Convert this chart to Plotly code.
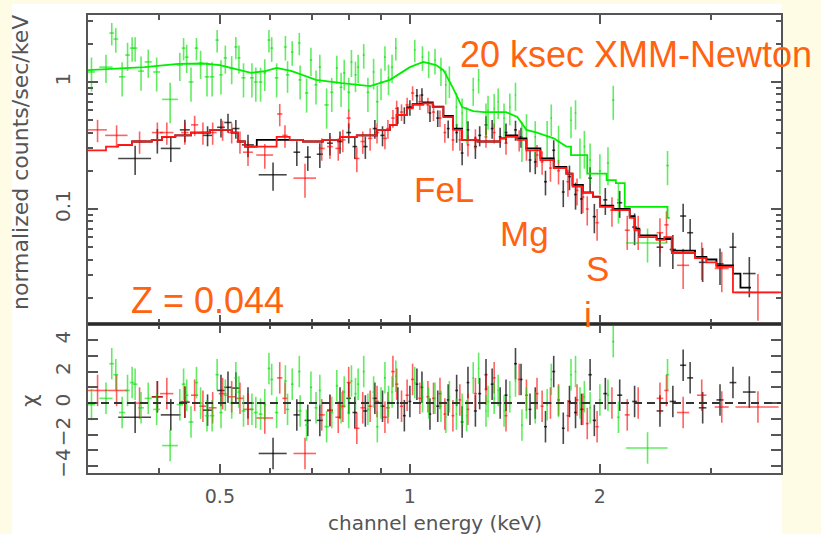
import plotly.graph_objects as go
from plotly.subplots import make_subplots

# ---------------- data ----------------
# black data set: energy (keV), half bin width, counts, relative error, chi residual
black_E = [0.367,0.398,0.418,0.44,0.478,0.502,0.515,0.53,0.554,0.607,0.662,0.689,0.72,0.747,0.775,0.80,0.818,0.85,0.88,0.905,
           0.957,0.98,1.0,1.026,1.045,1.076,1.107,1.15,1.186,1.21,1.236,1.27,1.29,1.32,1.35,1.39,1.42,1.47,1.50,1.55,
           1.58,1.64,1.69,1.75,1.79,1.83,1.87,1.93,1.96,2.04,2.15,2.27,2.49,2.61,2.71,2.78,2.91,3.10,3.25,3.45]
black_dE = [0.022,0.008,0.015,0.008,0.008,0.007,0.007,0.007,0.012,0.031,0.008,0.008,0.008,0.008,0.008,0.007,0.007,0.007,0.007,0.007,
            0.005,0.005,0.005,0.005,0.005,0.005,0.006,0.006,0.006,0.006,0.006,0.007,0.007,0.007,0.007,0.007,0.008,0.008,0.008,0.008,
            0.008,0.009,0.009,0.009,0.010,0.010,0.010,0.012,0.012,0.015,0.020,0.020,0.030,0.030,0.030,0.030,0.040,0.040,0.040,0.080]
black_y = [0.25,0.35,0.30,0.42,0.38,0.44,0.48,0.43,0.32,0.186,0.28,0.256,0.27,0.33,0.34,0.40,0.31,0.31,0.43,0.38,
           0.55,0.55,0.63,0.78,0.79,0.57,0.52,0.43,0.40,0.276,0.42,0.31,0.38,0.46,0.43,0.37,0.40,0.42,0.37,0.243,
           0.235,0.164,0.29,0.136,0.18,0.13,0.12,0.175,0.087,0.118,0.112,0.072,0.050,0.048,0.088,0.065,0.038,0.037,0.050,0.031]
black_rel = [0.26,0.22,0.22,0.20,0.18,0.17,0.17,0.17,0.20,0.25,0.22,0.22,0.22,0.20,0.20,0.18,0.20,0.20,0.17,0.18,
             0.15,0.15,0.14,0.13,0.13,0.15,0.15,0.16,0.17,0.20,0.17,0.20,0.18,0.17,0.17,0.18,0.18,0.18,0.18,0.20,
             0.20,0.22,0.20,0.24,0.22,0.24,0.24,0.22,0.26,0.24,0.24,0.28,0.30,0.30,0.25,0.28,0.30,0.32,0.30,0.35]
black_chi = [-0.9,0.4,-0.75,0.05,-0.45,0.8,1.0,0.95,0.0,-3.2,-0.75,-1.1,-1.1,-0.45,0.0,0.3,-0.6,-0.5,0.3,-0.2,
             0.0,-0.8,0.1,1.2,1.0,-0.7,-0.2,0.2,0.8,-1.2,1.3,-0.5,0.6,1.8,1.2,0.0,0.5,2.5,1.5,-0.4,
             0.0,-1.5,2.0,-1.6,0.1,-0.6,-0.4,1.8,-1.1,0.6,0.5,0.1,-0.5,0.1,2.4,1.6,-0.3,0.2,1.3,0.7]

# red data set
red_E = [0.32,0.343,0.373,0.398,0.412,0.44,0.456,0.47,0.487,0.505,0.522,0.538,0.554,0.589,0.622,0.634,0.682,0.725,0.747,0.77,
         0.783,0.80,0.824,0.842,0.865,0.887,0.913,0.923,0.94,0.953,0.97,0.99,1.01,1.037,1.068,1.09,1.116,1.136,1.17,1.20,
         1.236,1.27,1.32,1.36,1.42,1.49,1.53,1.59,1.62,1.67,1.72,1.78,1.84,1.88,1.91,1.98,2.09,2.21,2.30,2.49,
         2.55,2.71,2.90,3.12,3.56]
red_dE = [0.011,0.014,0.008,0.008,0.010,0.006,0.006,0.006,0.007,0.007,0.007,0.007,0.010,0.018,0.006,0.006,0.028,0.008,0.008,0.008,
          0.008,0.006,0.008,0.007,0.007,0.007,0.007,0.006,0.006,0.006,0.006,0.006,0.006,0.006,0.006,0.006,0.006,0.006,0.006,0.006,
          0.006,0.007,0.007,0.007,0.008,0.008,0.008,0.009,0.009,0.009,0.009,0.010,0.010,0.010,0.010,0.012,0.015,0.020,0.020,0.030,
          0.020,0.060,0.050,0.080,0.280]
red_y = [0.42,0.38,0.34,0.40,0.40,0.40,0.46,0.40,0.40,0.42,0.40,0.34,0.28,0.266,0.56,0.38,0.175,0.30,0.31,0.30,
         0.35,0.52,0.25,0.34,0.36,0.40,0.36,0.43,0.52,0.62,0.58,0.66,0.82,0.70,0.66,0.58,0.52,0.40,0.35,0.35,
         0.32,0.36,0.37,0.40,0.33,0.35,0.30,0.266,0.235,0.21,0.20,0.164,0.14,0.124,0.10,0.078,0.098,0.068,0.068,0.065,
         0.075,0.036,0.041,0.034,0.022]
red_rel = [0.20,0.20,0.20,0.20,0.20,0.20,0.18,0.20,0.20,0.18,0.18,0.20,0.22,0.22,0.20,0.20,0.30,0.20,0.20,0.20,
           0.20,0.17,0.22,0.20,0.20,0.18,0.18,0.17,0.16,0.15,0.15,0.14,0.13,0.14,0.14,0.15,0.15,0.17,0.18,0.18,
           0.19,0.18,0.18,0.18,0.19,0.19,0.20,0.20,0.21,0.22,0.22,0.24,0.24,0.25,0.26,0.28,0.26,0.30,0.30,0.30,
           0.28,0.35,0.33,0.35,0.40]
red_chi = [0.8,0.8,0.0,0.4,0.6,0.1,0.5,-0.2,-0.3,0.6,0.4,0.3,-0.4,-0.95,1.6,0.3,-3.2,-0.75,-0.5,-0.9,
           -0.2,1.3,-1.6,-0.3,-0.2,0.1,-0.9,-0.3,2.0,1.2,-0.2,0.5,1.5,0.3,0.4,0.3,0.6,-0.7,-0.8,0.2,
           -0.4,0.6,0.9,1.6,-0.8,1.5,0.5,0.6,-0.2,0.0,0.2,-0.8,0.2,-0.4,-1.3,-1.5,0.0,-0.75,0.0,0.3,
           0.8,-0.6,0.5,-0.25,-0.25]

# green data set
green_E = [0.313,0.33,0.337,0.342,0.35,0.357,0.363,0.367,0.375,0.385,0.397,0.417,0.432,0.438,0.443,0.45,0.459,0.466,0.477,0.486,
           0.495,0.502,0.51,0.522,0.53,0.536,0.545,0.562,0.57,0.58,0.589,0.598,0.604,0.615,0.635,0.64,0.651,0.668,0.67,0.686,
           0.697,0.71,0.72,0.738,0.752,0.766,0.778,0.787,0.80,0.808,0.82,0.828,0.845,0.858,0.876,0.888,0.90,0.913,0.925,0.937,
           0.95,1.018,1.047,1.071,1.096,1.12,1.14,1.155,1.185,1.21,1.23,1.26,1.285,1.32,1.33,1.36,1.38,1.41,1.44,1.47,
           1.505,1.53,1.58,1.65,1.675,1.72,1.80,1.83,1.86,1.89,1.93,2.00,2.06,2.10,2.14,2.38,2.56]
green_dE = [0.004,0.008,0.003,0.003,0.004,0.003,0.003,0.003,0.004,0.005,0.005,0.012,0.005,0.003,0.003,0.004,0.003,0.003,0.004,0.004,
            0.003,0.003,0.003,0.004,0.003,0.003,0.004,0.004,0.004,0.004,0.003,0.003,0.003,0.004,0.003,0.004,0.003,0.003,0.004,0.004,
            0.003,0.004,0.003,0.006,0.004,0.003,0.004,0.003,0.004,0.003,0.003,0.003,0.003,0.004,0.003,0.004,0.003,0.003,0.003,0.003,
            0.003,0.003,0.003,0.003,0.003,0.003,0.003,0.003,0.003,0.003,0.003,0.003,0.003,0.003,0.003,0.003,0.003,0.003,0.003,0.003,
            0.004,0.004,0.004,0.004,0.004,0.005,0.005,0.005,0.006,0.006,0.006,0.008,0.008,0.008,0.010,0.180,0.012]
green_y = [1.2,1.31,2.43,2.18,1.1,1.63,1.85,1.85,1.22,1.44,1.2,0.73,1.36,1.85,1.57,1.0,1.85,1.41,1.1,1.1,
           2.14,1.14,1.55,1.28,1.89,1.55,1.08,1.08,1.0,1.0,1.18,2.14,1.85,1.08,1.89,1.14,1.72,2.03,1.04,0.82,
           1.49,0.95,1.31,0.66,0.83,1.29,0.91,1.18,0.83,1.44,1.14,1.31,1.63,0.83,1.2,0.70,1.0,1.57,1.08,1.31,
           1.85,1.79,1.57,1.41,1.49,1.24,0.95,1.04,0.635,0.57,0.48,0.865,1.04,0.52,0.60,0.62,0.70,0.52,0.635,0.79,
           0.36,0.42,0.37,0.37,0.52,0.34,0.50,0.57,0.266,0.31,0.243,0.20,0.23,0.72,0.118,0.054,0.22]
green_rel = [0.30,0.25,0.20,0.22,0.30,0.25,0.22,0.22,0.30,0.25,0.30,0.35,0.25,0.20,0.25,0.30,0.20,0.25,0.30,0.30,
             0.20,0.30,0.25,0.25,0.20,0.25,0.30,0.30,0.30,0.30,0.28,0.20,0.22,0.30,0.22,0.28,0.22,0.20,0.30,0.30,
             0.25,0.30,0.25,0.35,0.30,0.25,0.30,0.27,0.30,0.24,0.27,0.25,0.22,0.30,0.27,0.33,0.28,0.22,0.27,0.25,
             0.20,0.20,0.22,0.24,0.23,0.25,0.30,0.28,0.30,0.30,0.32,0.25,0.22,0.30,0.30,0.30,0.27,0.30,0.28,0.25,
             0.35,0.33,0.33,0.33,0.28,0.33,0.28,0.26,0.35,0.33,0.35,0.35,0.33,0.30,0.35,0.30,0.30]
green_chi = [-0.1,0.3,2.5,1.8,-0.6,0.8,1.3,1.2,-0.3,0.3,-0.4,-2.7,-0.1,1.2,0.5,-1.2,1.3,0.0,-0.8,-0.8,
             1.8,-0.6,0.5,0.0,1.6,0.7,-0.5,-0.4,-0.6,-0.7,-0.1,2.2,1.5,-0.6,1.4,-0.4,1.2,2.0,-0.5,-1.4,
             1.0,-0.3,0.8,-1.5,-0.6,1.1,-0.3,0.7,-0.6,1.4,0.6,1.2,2.0,-0.4,0.7,-1.5,0.0,1.6,0.1,0.7,
             1.7,1.3,0.4,0.0,0.3,-0.2,-0.9,0.4,-0.7,-0.4,-0.8,1.6,2.2,-0.5,0.1,0.3,0.8,-0.5,0.4,1.4,
             -1.4,0.0,-0.3,-0.1,1.5,0.1,1.8,2.0,0.0,0.4,-0.3,0.2,0.5,3.9,-0.9,-2.85,1.8]

# folded models
black_model_E = [0.345,0.363,0.39,0.405,0.425,0.45,0.482,0.522,0.534,0.548,0.572,0.645,0.677,0.728,0.775,0.824,0.887,0.93,0.953,0.99,
                 1.01,1.05,1.087,1.13,1.17,1.21,1.28,1.39,1.42,1.48,1.53,1.61,1.69,1.77,1.81,1.88,1.95,2.0,2.10,2.23,
                 2.27,2.31,2.46,2.60,2.83,2.95,3.06,3.25,3.34,3.47]
black_model_y = [0.32,0.34,0.35,0.37,0.38,0.40,0.42,0.40,0.34,0.31,0.35,0.35,0.34,0.35,0.37,0.38,0.42,0.46,0.55,0.63,
                 0.67,0.69,0.64,0.54,0.43,0.35,0.34,0.36,0.38,0.36,0.30,0.25,0.215,0.19,0.155,0.135,0.125,0.106,0.10,0.088,
                 0.07,0.062,0.058,0.047,0.042,0.04,0.036,0.031,0.024,0.024]
red_model_E = [0.30,0.313,0.33,0.345,0.363,0.39,0.405,0.425,0.45,0.482,0.522,0.534,0.548,0.615,0.645,0.677,0.728,0.775,0.824,0.887,
               0.93,0.953,0.99,1.01,1.05,1.087,1.13,1.17,1.21,1.28,1.39,1.42,1.48,1.53,1.61,1.69,1.77,1.81,1.88,1.95,
               2.0,2.10,2.23,2.27,2.31,2.46,2.53,2.60,2.83,2.95,3.06,3.25,3.95]
red_model_y = [0.29,0.29,0.31,0.32,0.34,0.35,0.37,0.38,0.40,0.42,0.40,0.34,0.31,0.37,0.35,0.34,0.35,0.37,0.38,0.42,
               0.46,0.55,0.62,0.66,0.68,0.635,0.53,0.42,0.35,0.34,0.36,0.37,0.35,0.29,0.243,0.21,0.19,0.15,0.134,0.124,
               0.104,0.098,0.085,0.068,0.06,0.057,0.06,0.045,0.041,0.038,0.035,0.022,0.022]
green_model_E = [0.30,0.31,0.34,0.38,0.43,0.47,0.50,0.53,0.56,0.59,0.615,0.65,0.71,0.78,0.865,0.93,0.97,1.0,1.05,1.1,
                 1.13,1.17,1.21,1.26,1.31,1.42,1.48,1.53,1.59,1.64,1.69,1.77,1.80,1.80,1.91,1.91,2.05,2.05,2.12,2.12,
                 2.19,2.19,2.56,2.56,2.58]
green_model_y = [1.23,1.24,1.27,1.31,1.39,1.40,1.36,1.26,1.18,1.22,1.29,1.22,1.04,0.98,0.93,1.04,1.18,1.31,1.44,1.36,
                 1.24,0.9,0.635,0.59,0.58,0.58,0.53,0.42,0.40,0.38,0.36,0.31,0.31,0.266,0.266,0.19,0.19,0.169,0.169,0.16,
                 0.16,0.104,0.104,0.085,0.085]

# tick values / labels
x_major = [0.5, 1, 2]
x_major_text = ["0.5", "1", "2"]
x_minor = [0.4, 0.6, 0.7, 0.8, 0.9, 3]
y_major = [0.1, 1]
y_major_text = ["0.1", "1"]
y_minor = [0.02,0.03,0.04,0.05,0.06,0.07,0.08,0.09,0.2,0.3,0.4,0.5,0.6,0.7,0.8,0.9,2,3]
chi_major = [-4, -2, 0, 2, 4]
chi_major_text = ["\u22124", "\u22122", "0", "2", "4"]
chi_minor = [-3, -1, 1, 3]

# ---------------- figure ----------------
W, H = 821, 534
L, R, T, B = 88, 40, 15, 61
PW, PH = W - L - R, H - T - B
SEP = 324

def px(x):
    return (x - L) / PW

def py(y):
    return (H - B - y) / PH

fig = make_subplots(rows=2, cols=1, shared_xaxes=True, vertical_spacing=0,
                    row_heights=[(SEP - T) / PH, (H - B - SEP) / PH])

series = [
    (black_E, black_dE, black_y, black_rel, black_chi, "rgba(0,0,0,0.72)"),
    (red_E, red_dE, red_y, red_rel, red_chi, "rgba(255,0,0,0.62)"),
    (green_E, green_dE, green_y, green_rel, green_chi, "rgba(0,225,0,0.62)"),
]

for E, dE, yv, rel, chi, col in series:
    err = [v * r for v, r in zip(yv, rel)]
    fig.add_trace(go.Scatter(
        x=E, y=yv, mode="markers", marker=dict(size=1, opacity=0, color=col),
        error_x=dict(type="data", array=dE, color=col, thickness=1.6, width=0),
        error_y=dict(type="data", array=err, color=col, thickness=1.6, width=0),
        hoverinfo="skip", showlegend=False), row=1, col=1)

fig.add_trace(go.Scatter(x=black_model_E, y=black_model_y, mode="lines", line_shape="hv",
                         line=dict(color="black", width=1.8), hoverinfo="skip", showlegend=False), row=1, col=1)
fig.add_trace(go.Scatter(x=red_model_E, y=red_model_y, mode="lines", line_shape="hv",
                         line=dict(color="#ff1a1a", width=1.8), hoverinfo="skip", showlegend=False), row=1, col=1)
fig.add_trace(go.Scatter(x=green_model_E, y=green_model_y, mode="lines",
                         line=dict(color="#00ee00", width=1.8), hoverinfo="skip", showlegend=False), row=1, col=1)

for E, dE, yv, rel, chi, col in series:
    fig.add_trace(go.Scatter(
        x=E, y=chi, mode="markers", marker=dict(size=1, opacity=0, color=col),
        error_x=dict(type="data", array=dE, color=col, thickness=1.6, width=0),
        error_y=dict(type="constant", value=1, color=col, thickness=1.6, width=0),
        hoverinfo="skip", showlegend=False), row=2, col=1)

FONT = "DejaVu Sans"
GRAY = "#555555"
axis_common = dict(showline=True, linecolor=GRAY, linewidth=2, mirror="ticks", ticks="inside",
                   tickcolor=GRAY, tickwidth=1.5, showgrid=False, zeroline=False)

xr = [-0.510, 0.588]
fig.update_xaxes(type="log", range=xr, tickmode="array", tickvals=x_major, ticktext=x_major_text,
                 ticklen=9, minor=dict(tickmode="array", tickvals=x_minor, ticks="inside", ticklen=5,
                                       tickcolor=GRAY, tickwidth=1.5, showgrid=False),
                 tickfont=dict(family=FONT, size=19, color=GRAY), ticklabelstandoff=5, **axis_common)
fig.update_xaxes(showticklabels=False, row=1, col=1)
fig.update_xaxes(showticklabels=True, row=2, col=1)

fig.update_yaxes(type="log", range=[-1.906, 0.528], tickmode="array", tickvals=y_major, ticktext=y_major_text,
                 ticklen=10, tickangle=-90, tickfont=dict(family=FONT, size=20, color=GRAY),
                 ticklabelstandoff=8,
                 minor=dict(tickmode="array", tickvals=y_minor, ticks="inside", ticklen=5,
                            tickcolor=GRAY, tickwidth=1.5, showgrid=False),
                 row=1, col=1, **axis_common)
fig.update_yaxes(range=[-4.44, 5.02], tickmode="array", tickvals=chi_major, ticktext=chi_major_text,
                 ticklen=10, tickangle=-90, tickfont=dict(family=FONT, size=20, color=GRAY),
                 ticklabelstandoff=8,
                 minor=dict(tickmode="array", tickvals=chi_minor, ticks="inside", ticklen=10,
                            tickcolor=GRAY, tickwidth=1.5, showgrid=False),
                 row=2, col=1, **axis_common)

shapes = [
    dict(type="rect", xref="paper", yref="paper", x0=px(12), x1=px(782), y0=py(534), y1=py(4),
         fillcolor="white", line=dict(width=0), layer="below"),
    dict(type="line", xref="paper", yref="paper", x0=0, x1=1, y0=py(SEP), y1=py(SEP),
         line=dict(color="black", width=1.2)),
    dict(type="line", xref="paper", yref="y2", x0=0, x1=1, y0=0, y1=0,
         line=dict(color="#333333", width=2, dash="8px,5px")),
]

ORANGE = "#ff6310"
annotations = [
    dict(text="20 ksec XMM-Newton", x=px(636), y=py(54), size=36),
    dict(text="FeL", x=px(444), y=py(190), size=35),
    dict(text="Mg", x=px(524), y=py(233), size=35),
    dict(text="S", x=px(597), y=py(268), size=35),
    dict(text="i", x=px(588), y=py(314), size=35),
    dict(text="Z = 0.044", x=px(207), y=py(300), size=36),
]
ann_list = []
for a in annotations:
    ann_list.append(dict(text=a["text"], xref="paper", yref="paper", x=a["x"], y=a["y"],
                         xanchor="center", yanchor="middle", showarrow=False,
                         font=dict(family="Liberation Sans", color=ORANGE, size=a["size"])))
ann_list.append(dict(text="normalized counts/sec/keV", xref="paper", yref="paper", x=px(20), y=py(163),
                     textangle=-90, showarrow=False, xanchor="center", yanchor="middle",
                     font=dict(family=FONT, size=22, color=GRAY)))
ann_list.append(dict(text="\u03c7", xref="paper", yref="paper", x=px(29), y=py(401),
                     textangle=-90, showarrow=False, xanchor="center", yanchor="middle",
                     font=dict(family=FONT, size=22, color=GRAY)))
ann_list.append(dict(text="channel energy (keV)", xref="paper", yref="paper", x=px(435), y=py(523),
                     showarrow=False, xanchor="center", yanchor="middle",
                     font=dict(family=FONT, size=20, color=GRAY)))

fig.update_layout(width=W, height=H, margin=dict(l=L, r=R, t=T, b=B),
                  paper_bgcolor="#fffce6", plot_bgcolor="white", showlegend=False,
                  shapes=shapes, annotations=ann_list)

fig.write_html("out.html", config={"displayModeBar": False},
               post_script="document.body.style.margin='0';document.body.style.overflow='hidden';")
